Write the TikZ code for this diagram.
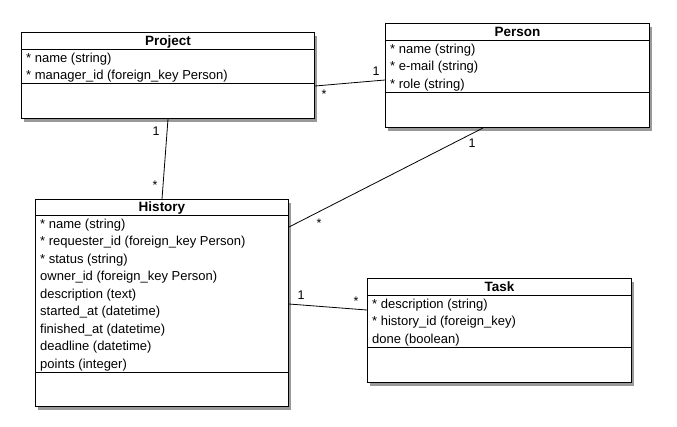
\documentclass[tikz,border=0pt]{standalone}
\usepackage{fontspec}
\setmainfont{Liberation Sans}
\usetikzlibrary{shadows}

\tikzset{
    classbox/.style={draw, line width=1pt, fill=white, inner sep=0pt, anchor=north west,
        drop shadow={shadow xshift=2pt, shadow yshift=-3.5pt, opacity=0.8}},
    classtitle/.style={anchor=base, inner sep=0pt, font=\bfseries\fontsize{13.5}{15}\selectfont},
    attrs/.style={anchor=north west, align=left, inner sep=0pt, font=\fontsize{13}{17.5}\selectfont},
    mult/.style={inner sep=0pt, font=\fontsize{12.5}{14}\selectfont},
    assoc/.style={line width=0.8pt}
}

\begin{document}
\begin{tikzpicture}[x=1pt, y=-1pt]
    \fill[white] (0,0) rectangle (677,426);
    \useasboundingbox (0,0) rectangle (677,426);

    % Project
    \node[classbox, minimum width=293pt, minimum height=86pt] (project) at (21,32) {};
    \node[classtitle] at (project.north |- 0,45) {Project};
    \draw (project.west |- 0,49) -- (project.east |- 0,49);
    \node[attrs] at (26,52.5) {* name (string)\\* manager\_id (foreign\_key Person)};
    \draw (project.west |- 0,83) -- (project.east |- 0,83);

    % Person
    \node[classbox, minimum width=264pt, minimum height=104pt] (person) at (385,23) {};
    \node[classtitle] at (person.north |- 0,36) {Person};
    \draw (person.west |- 0,40) -- (person.east |- 0,40);
    \node[attrs] at (390,43.5) {* name (string)\\* e-mail (string)\\* role (string)};
    \draw (person.west |- 0,92) -- (person.east |- 0,92);

    % History
    \node[classbox, minimum width=253pt, minimum height=207pt] (history) at (35,199) {};
    \node[classtitle] at (history.north |- 0,211.5) {History};
    \draw (history.west |- 0,215) -- (history.east |- 0,215);
    \node[attrs] at (40,218.5) {* name (string)\\* requester\_id (foreign\_key Person)\\* status (string)\\
        owner\_id (foreign\_key Person)\\description (text)\\started\_at (datetime)\\
        finished\_at (datetime)\\deadline (datetime)\\points (integer)};
    \draw (history.west |- 0,372) -- (history.east |- 0,372);

    % Task
    \node[classbox, minimum width=264pt, minimum height=104pt] (task) at (367,278) {};
    \node[classtitle] at (task.north |- 0,291) {Task};
    \draw (task.west |- 0,295) -- (task.east |- 0,295);
    \node[attrs] at (372,298.5) {* description (string)\\* history\_id (foreign\_key)\\done (boolean)};
    \draw (task.west |- 0,347) -- (task.east |- 0,347);

    % associations
    \draw[assoc] (project.east |- 0,86) -- (person.west |- 0,80);
    \node[mult] (m1) at (376,71) {1};
    \node[mult] (m2) at (324,94) {*};

    \draw[assoc] (project.south) -- (history.north);
    \node[mult] (m3) at (156,131) {1};
    \node[mult] (m4) at (155,185) {*};

    \draw[assoc] (person.south -| 483,0) -- (history.east |- 0,227);
    \node[mult] (m5) at (472,143) {1};
    \node[mult] (m6) at (319,223) {*};

    \draw[assoc] (history.east |- 0,304) -- (task.west |- 0,310);
    \node[mult] (m7) at (301,295) {1};
    \node[mult] (m8) at (356,301) {*};
\end{tikzpicture}
\end{document}
